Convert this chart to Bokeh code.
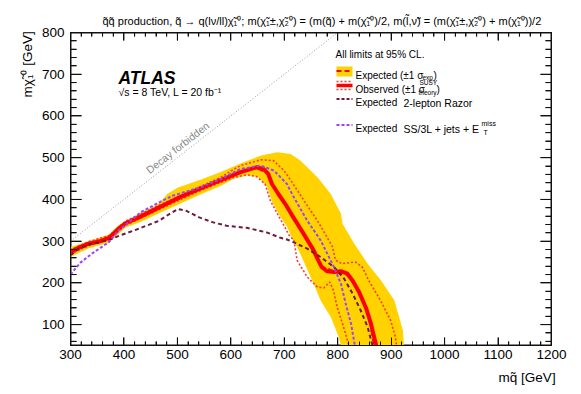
import numpy as np
from bokeh.plotting import figure
from bokeh.models import Label, LinearAxis, SingleIntervalTicker, CustomJSTickFormatter
from bokeh.embed import file_html
from bokeh.resources import INLINE

# ---------------- data ----------------
obs_x = [300, 315, 334, 353, 372, 390, 403, 428, 466, 504, 541, 579, 617, 648, 661, 670, 677, 689, 702,
         717, 736, 755, 762, 770, 780, 793, 806, 818, 828, 840, 853, 862, 872]
obs_y = [274, 284, 294, 299, 308, 330, 343, 357, 381, 405, 425, 445, 465, 477, 473, 461, 437, 413, 389,
         357, 318, 278, 258, 238, 228, 226, 228, 222, 205, 178, 140, 103, 50]

exp_x = [300, 334, 372, 403, 466, 541, 617, 648, 668, 680, 702, 736, 755, 770, 795, 820, 840, 858, 868]
exp_y = [273, 293, 307, 342, 380, 424, 464, 476, 463, 431, 388, 317, 277, 239, 227, 219, 177, 122, 50]

band_up_x = [300, 334, 372, 390, 406, 431, 456, 468, 481, 500, 543, 581, 618, 656, 687, 712, 730,
             762, 787, 806, 809, 831, 856, 881, 906, 922, 924]
band_up_y = [286, 300, 316, 338, 350, 368, 383, 394, 413, 428, 447, 466, 486, 505, 513, 509, 493,
             453, 413, 366, 342, 294, 246, 206, 158, 86, 50]
band_lo_x = [300, 334, 372, 403, 431, 468, 506, 543, 581, 606, 631, 652, 668, 677, 693, 705, 715,
             727, 755, 768, 787, 802, 806]
band_lo_y = [262, 283, 296, 333, 346, 368, 390, 412, 432, 450, 458, 453, 430, 395, 358, 335, 306,
             278, 198, 158, 118, 70, 50]

th_up_x = [300, 334, 372, 403, 466, 541, 580, 600, 618, 656, 680, 699, 712, 737, 762, 774, 790, 796,
           808, 833, 846, 858, 880, 899, 908, 910]
th_up_y = [279, 299, 313, 348, 386, 430, 452, 468, 481, 495, 493, 470, 446, 397, 349, 323, 287, 254,
           246, 250, 238, 206, 158, 110, 70, 50]
th_dn_x = [300, 334, 372, 403, 466, 541, 580, 604, 630, 648, 664, 674, 687, 700, 708, 718, 724, 743,
           762, 774, 785, 792, 799, 811, 821]
th_dn_y = [269, 289, 303, 338, 376, 420, 440, 452, 459, 455, 437, 397, 366, 336, 316, 302, 254, 214,
           190, 188, 202, 182, 142, 94, 50]

razor_x = [300, 315, 334, 353, 372, 391, 428, 466, 485, 501, 516, 541, 567, 592, 630, 667, 693, 705,
           718, 743, 768, 793, 812, 828, 843, 856, 865]
razor_y = [266, 282, 292, 297, 303, 313, 330, 349, 365, 377, 373, 357, 345, 337, 332, 321, 308, 304,
           297, 282, 262, 238, 210, 174, 134, 94, 50]

ss3l_x = [300, 318, 340, 372, 391, 406, 431, 466, 491, 543, 581, 618, 656, 681, 705, 718, 743, 768,
          793, 806, 815, 825, 832]
ss3l_y = [220, 248, 270, 298, 327, 342, 369, 393, 409, 429, 449, 473, 481, 469, 437, 405, 349, 302,
          238, 198, 150, 102, 50]

diag_x = [300, 800]
diag_y = [300, 800]

x_ticks_interval = 100
y_ticks_interval = 100
minor_per_major = 5

TITLE = ("q\u0303q\u0303 production, q\u0303 \u2192 q(l\u03bd/ll)\u03c7\u0303\u2081\u2070; "
         "m(\u03c7\u0303\u2081\u00b1,\u03c7\u0303\u2082\u2070) = (m(q\u0303) + m(\u03c7\u0303\u2081\u2070)/2, "
         "m(l\u0303,\u03bd\u0303) = (m(\u03c7\u0303\u2081\u00b1,\u03c7\u0303\u2082\u2070) + m(\u03c7\u0303\u2081\u2070))/2")
X_LABEL = "mq\u0303 [GeV]"
Y_LABEL = "m\u03c7\u0303\u2081\u2070 [GeV]"
NB = "\u00a0"   # padding so that the end-anchored axis titles end at the axis end

# ---------------- layout helpers ----------------
FONT = "Liberation Sans"
INK = "#111111"
FW, FH = 481, 313
X0, X1, Y0, Y1 = 300, 1200, 50, 800
FL, FT = 70, 32   # screen pixel position of the frame's left/top
PXX = (X1 - X0) / FW   # data units per pixel, x
PXY = (Y1 - Y0) / FH   # data units per pixel, y


def dx(px):
    return X0 + (px - FL) * PXX


def dy(py):
    return Y1 - (py - FT) * PXY


p = figure(frame_width=FW, frame_height=FH, x_range=(X0, X1), y_range=(Y0, Y1),
           output_backend="svg", toolbar_location=None,
           min_border_left=FL, min_border_right=26, min_border_top=FT, min_border_bottom=45,
           title=TITLE)
p.grid.visible = False
p.outline_line_color = INK
p.outline_line_width = 1
p.background_fill_color = None
p.border_fill_color = None
p.title.text_font = FONT
p.title.text_font_size = "11px"
p.title.text_font_style = "normal"
p.title.text_color = "black"
p.title.align = "left"
p.title.offset = 32
p.title.standoff = 12


def style_axis(ax, ticker, tin, tmin, labels=True):
    ax.ticker = ticker
    ax.major_tick_in = tin
    ax.major_tick_out = 0
    ax.minor_tick_in = tmin
    ax.minor_tick_out = 0
    ax.axis_line_color = INK
    ax.axis_line_width = 1
    ax.major_tick_line_color = INK
    ax.minor_tick_line_color = INK
    ax.major_label_text_font = FONT
    ax.major_label_text_font_size = "13.5px"
    ax.major_label_text_color = "black"
    if not labels:
        ax.formatter = CustomJSTickFormatter(code="return ''")
        ax.major_label_standoff = 0


XT_MAJ, XT_MIN, YT_MAJ, YT_MIN = 8, 4, 11, 6
style_axis(p.xaxis[0], SingleIntervalTicker(interval=x_ticks_interval, num_minor_ticks=minor_per_major), XT_MAJ, XT_MIN)
style_axis(p.yaxis[0], SingleIntervalTicker(interval=y_ticks_interval, num_minor_ticks=minor_per_major), YT_MAJ, YT_MIN)
p.xaxis[0].major_label_standoff = 4
p.yaxis[0].major_label_standoff = 6
for ax, lbl, pad, so in ((p.xaxis[0], X_LABEL, 13, 8), (p.yaxis[0], Y_LABEL, 17, 4)):
    ax.axis_label = lbl + NB * pad
    ax.axis_label_text_font = FONT
    ax.axis_label_text_font_size = "13.5px"
    ax.axis_label_text_font_style = "normal"
    ax.axis_label_text_color = "black"
    ax.axis_label_standoff = so
    ax.axis_label_align = "end"

top_ax = LinearAxis()
style_axis(top_ax, SingleIntervalTicker(interval=x_ticks_interval, num_minor_ticks=minor_per_major), XT_MAJ, XT_MIN, labels=False)
p.add_layout(top_ax, "above")
right_ax = LinearAxis()
style_axis(right_ax, SingleIntervalTicker(interval=y_ticks_interval, num_minor_ticks=minor_per_major), YT_MAJ, YT_MIN, labels=False)
p.add_layout(right_ax, "right")

# ---------------- frame box and tick marks drawn as line paths inside the frame ----------------
p.line([X0, X1, X1, X0, X0], [Y0, Y0, Y1, Y1, Y0], line_color=INK, line_width=2)
tick_px, tick_py = [], []
xt = np.arange(X0, X1 + 1, x_ticks_interval / minor_per_major)
xt_len = np.where(np.isclose(xt % x_ticks_interval, 0), XT_MAJ, XT_MIN) * PXY
for xv, ln in zip(xt, xt_len):
    tick_px += [xv, xv, np.nan, xv, xv, np.nan]
    tick_py += [Y0, Y0 + ln, np.nan, Y1, Y1 - ln, np.nan]
yt = np.arange(60, Y1 + 1, y_ticks_interval / minor_per_major)
yt_len = np.where(np.isclose(yt % y_ticks_interval, 0), YT_MAJ, YT_MIN) * PXX
for yv, ln in zip(yt, yt_len):
    tick_px += [X0, X0 + ln, np.nan, X1, X1 - ln, np.nan]
    tick_py += [yv, yv, np.nan, yv, yv, np.nan]
p.line(tick_px, tick_py, line_color=INK, line_width=1)

# ---------------- marks ----------------
YELLOW = "#ffd200"
RED = "#ff0000"
THCOL = "#ff3a2a"
MAROON = "#6e1a3e"
PURPLE = "#9a44ff"

p.patch(band_up_x + band_lo_x[::-1], band_up_y + band_lo_y[::-1], fill_color=YELLOW, line_color=None)
p.line(diag_x, diag_y, line_color="#999999", line_width=1, line_dash="1 2")
p.line(exp_x, exp_y, line_color=RED, line_width=2, line_dash="6 3")
p.line(th_up_x, th_up_y, line_color=THCOL, line_width=1.6, line_dash="2 2")
p.line(th_dn_x, th_dn_y, line_color=THCOL, line_width=1.6, line_dash="2 2")
p.line(obs_x, obs_y, line_color=RED, line_width=4, line_join="round")
p.line(razor_x, razor_y, line_color=MAROON, line_width=2, line_dash="4 3")
p.line(ss3l_x, ss3l_y, line_color=PURPLE, line_width=2, line_dash="3 2")

# ---------------- legend keys (screen-pixel layout) ----------------
kx0, kx1 = 336, 352
p.quad(left=dx(kx0), right=dx(kx1), top=dy(66), bottom=dy(76), fill_color=YELLOW, line_color=None)
p.line([dx(kx0), dx(kx1)], [dy(70.5), dy(70.5)], line_color=RED, line_width=2, line_dash="5 3")
p.line([dx(kx0), dx(kx1)], [dy(85), dy(85)], line_color=RED, line_width=3.5)
p.line([dx(kx0), dx(kx1)], [dy(81), dy(81)], line_color=THCOL, line_width=1.5, line_dash="2 2")
p.line([dx(kx0), dx(kx1)], [dy(89), dy(89)], line_color=THCOL, line_width=1.5, line_dash="2 2")
p.line([dx(kx0), dx(kx1)], [dy(98.5), dy(98.5)], line_color=MAROON, line_width=2, line_dash="3 2")
p.line([dx(kx0), dx(kx1)], [dy(124.5), dy(124.5)], line_color=PURPLE, line_width=2, line_dash="3 2")


# ---------------- texts ----------------
def lab(text, px, py, size, align="left", baseline="alphabetic", color="black",
        style="normal", angle=0.0):
    p.add_layout(Label(x=dx(px), y=dy(py), text=text, text_font=FONT, text_font_size=size,
                       text_align=align, text_baseline=baseline, text_color=color,
                       text_font_style=style, angle=angle))


lab("ATLAS", 118, 77.5, "17.5px", style="bold italic")
lab("\u221as = 8 TeV, L = 20 fb\u207b\u00b9", 118, 91.5, "10.5px")
lab("All limits at 95% CL.", 335, 53.5, "10px")

lab("Expected (\u00b11 \u03c3", 355, 74.5, "10px")
lab("exp", 422, 76.5, "6.5px")
lab(")", 433, 74.5, "10px")
lab("Observed (\u00b11 \u03c3", 355, 89, "10px")
lab("SUSY", 419, 81.5, "6.5px")
lab("theory", 418, 92, "6.5px")
lab(")", 436, 89, "10px")
lab("Expected", 355, 102, "10px")
lab("2-lepton Razor", 403, 102.5, "10.5px")
lab("Expected", 355, 128, "10px")
lab("SS/3L + jets + E", 403, 128.5, "10.5px")
lab("miss", 481, 123, "7px")
lab("T", 483, 132, "7px")

ang = float(np.arctan2(FH / (Y1 - Y0), FW / (X1 - X0)))
lab("Decay forbidden", 177, 147, "10.5px", align="center", baseline="middle", color="#888888", angle=ang)

open("out.html", "w").write(file_html(p, INLINE))
